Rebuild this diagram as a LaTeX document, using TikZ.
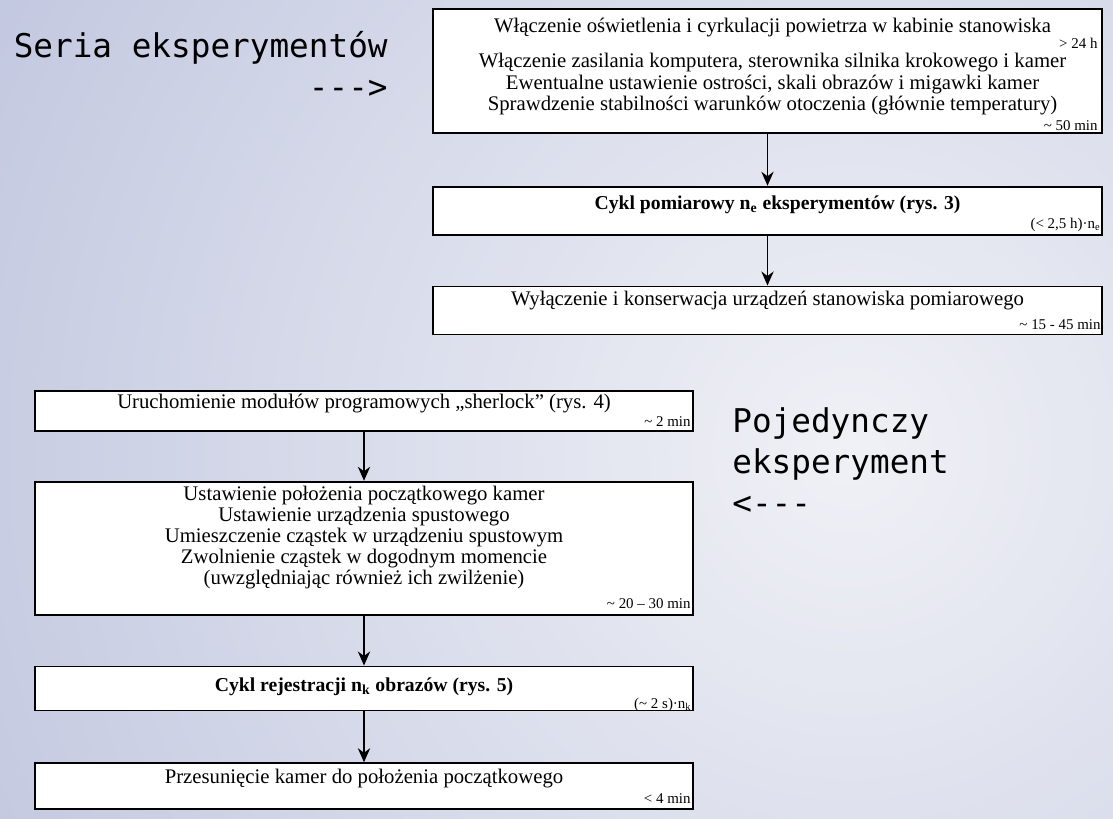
\documentclass[tikz,border=0pt]{standalone}
\usepackage{fontspec}
\setmainfont{Liberation Serif}
\newfontfamily\gothicfont{DejaVu Sans Mono}
\usepackage{tikz}
\usetikzlibrary{positioning,arrows.meta}

\definecolor{bgin}{RGB}{240,241,246}
\definecolor{bgout}{RGB}{155,165,205}

\tikzset{
  upbox/.style={draw=black,line width=1pt,fill=white,minimum width=13.38cm,inner sep=0pt},
  lowbox/.style={draw=black,line width=1pt,fill=white,minimum width=13.16cm,inner sep=0pt},
  steptext/.style={font=\fontsize{11.8}{12}\selectfont,align=center,inner sep=0pt},
  boldtext/.style={font=\fontsize{11.2}{12}\selectfont\bfseries,inner sep=0pt},
  timetext/.style={font=\fontsize{8.5}{10}\selectfont,inner sep=0pt},
  bigtext/.style={font=\gothicfont\fontsize{18.6}{23.5}\selectfont,inner sep=0pt},
  flow/.style={-{Stealth[length=8pt,width=7pt]},line width=0.9pt}
}

\begin{document}
\begin{tikzpicture}
	\useasboundingbox (0,0) rectangle (22.26,-16.36);
	\begin{scope}
		\clip (0,0) rectangle (22.26,-16.36);
		\shade[inner color=bgin,outer color=bgout] (17,-9) circle (36cm);
	\end{scope}

	% seria eksperymentow
	\node[bigtext,align=right,anchor=north east] (series) at (7.76,-0.62) {Seria eksperymentów\\-\kern0pt-\kern0pt->};

	\node[upbox,minimum height=2.48cm,anchor=north] (cfg) at (15.35,-0.16) {};
	\node[steptext,anchor=north,shift={(0.1,-0.2)}] (cfg-txt) at (cfg.north) {Włączenie oświetlenia i cyrkulacji powietrza w kabinie stanowiska\\[8pt]Włączenie zasilania komputera, sterownika silnika krokowego i kamer\\Ewentualne ustawienie ostrości, skali obrazów i migawki kamer\\Sprawdzenie stabilności warunków otoczenia (głównie temperatury)};
	\node[timetext,anchor=base east,shift={(-0.1,-0.8)}] (cfg-t1) at (cfg.north east) {> 24 h};
	\node[timetext,anchor=base east,shift={(-0.1,0.07)}] (cfg-t2) at (cfg.south east) {\textasciitilde{} 50 min};

	\node[upbox,minimum height=0.96cm,below=1.04cm of cfg] (meas) {};
	\node[boldtext,anchor=base,shift={(0.2,-0.48)}] (meas-txt) at (meas.north) {Cykl pomiarowy n\textsubscript{e} eksperymentów (rys. 3)};
	\node[timetext,anchor=base east,shift={(-0.04,0.14)}] (meas-t) at (meas.south east) {(< 2,5 h)·n\textsubscript{e}};

	\node[upbox,minimum height=0.96cm,below=1.0cm of meas] (shut) {};
	\node[steptext,anchor=base,shift={(0,-0.4)}] (shut-txt) at (shut.north) {Wyłączenie i konserwacja urządzeń stanowiska pomiarowego};
	\node[timetext,anchor=base east,shift={(-0.04,0.12)}] (shut-t) at (shut.south east) {\textasciitilde{} 15 - 45 min};

	\draw[flow] (cfg)--(meas);
	\draw[flow] (meas)--(shut);

	% pojedynczy eksperyment
	\node[bigtext,align=left,anchor=north west] (single) at (14.64,-8.14) {Pojedynczy\\eksperyment\\<-\kern0pt-\kern0pt-};

	\node[lowbox,minimum height=0.8cm,anchor=north] (start) at (7.28,-7.8) {};
	\node[steptext,anchor=base,shift={(0,-0.36)}] (start-txt) at (start.north) {Uruchomienie modułów programowych „sherlock” (rys. 4)};
	\node[timetext,anchor=base east,shift={(-0.06,0.1)}] (start-t) at (start.south east) {\textasciitilde{} 2 min};

	\node[lowbox,minimum height=2.66cm,below=0.98cm of start] (prep) {};
	\node[steptext,anchor=north,shift={(0,-0.1)}] (prep-txt) at (prep.north) {Ustawienie położenia początkowego kamer\\Ustawienie urządzenia spustowego\\Umieszczenie cząstek w urządzeniu spustowym\\Zwolnienie cząstek w dogodnym momencie\\(uwzględniając również ich zwilżenie)};
	\node[timetext,anchor=base east,shift={(-0.06,0.14)}] (prep-t) at (prep.south east) {\textasciitilde{} 20 – 30 min};

	\node[lowbox,minimum height=0.88cm,below=1.0cm of prep] (rec) {};
	\node[boldtext,anchor=base,shift={(0,-0.52)}] (rec-txt) at (rec.north) {Cykl rejestracji n\textsubscript{k} obrazów (rys. 5)};
	\node[timetext,anchor=base east,shift={(-0.04,0.06)}] (rec-t) at (rec.south east) {(\textasciitilde{} 2 s)·n\textsubscript{k}};

	\node[lowbox,minimum height=0.92cm,below=1.02cm of rec] (back) {};
	\node[steptext,anchor=base,shift={(0,-0.42)}] (back-txt) at (back.north) {Przesunięcie kamer do położenia początkowego};
	\node[timetext,anchor=base east,shift={(-0.06,0.14)}] (back-t) at (back.south east) {< 4 min};

	\draw[flow] (start)--(prep);
	\draw[flow] (prep)--(rec);
	\draw[flow] (rec)--(back);
\end{tikzpicture}
\end{document}
